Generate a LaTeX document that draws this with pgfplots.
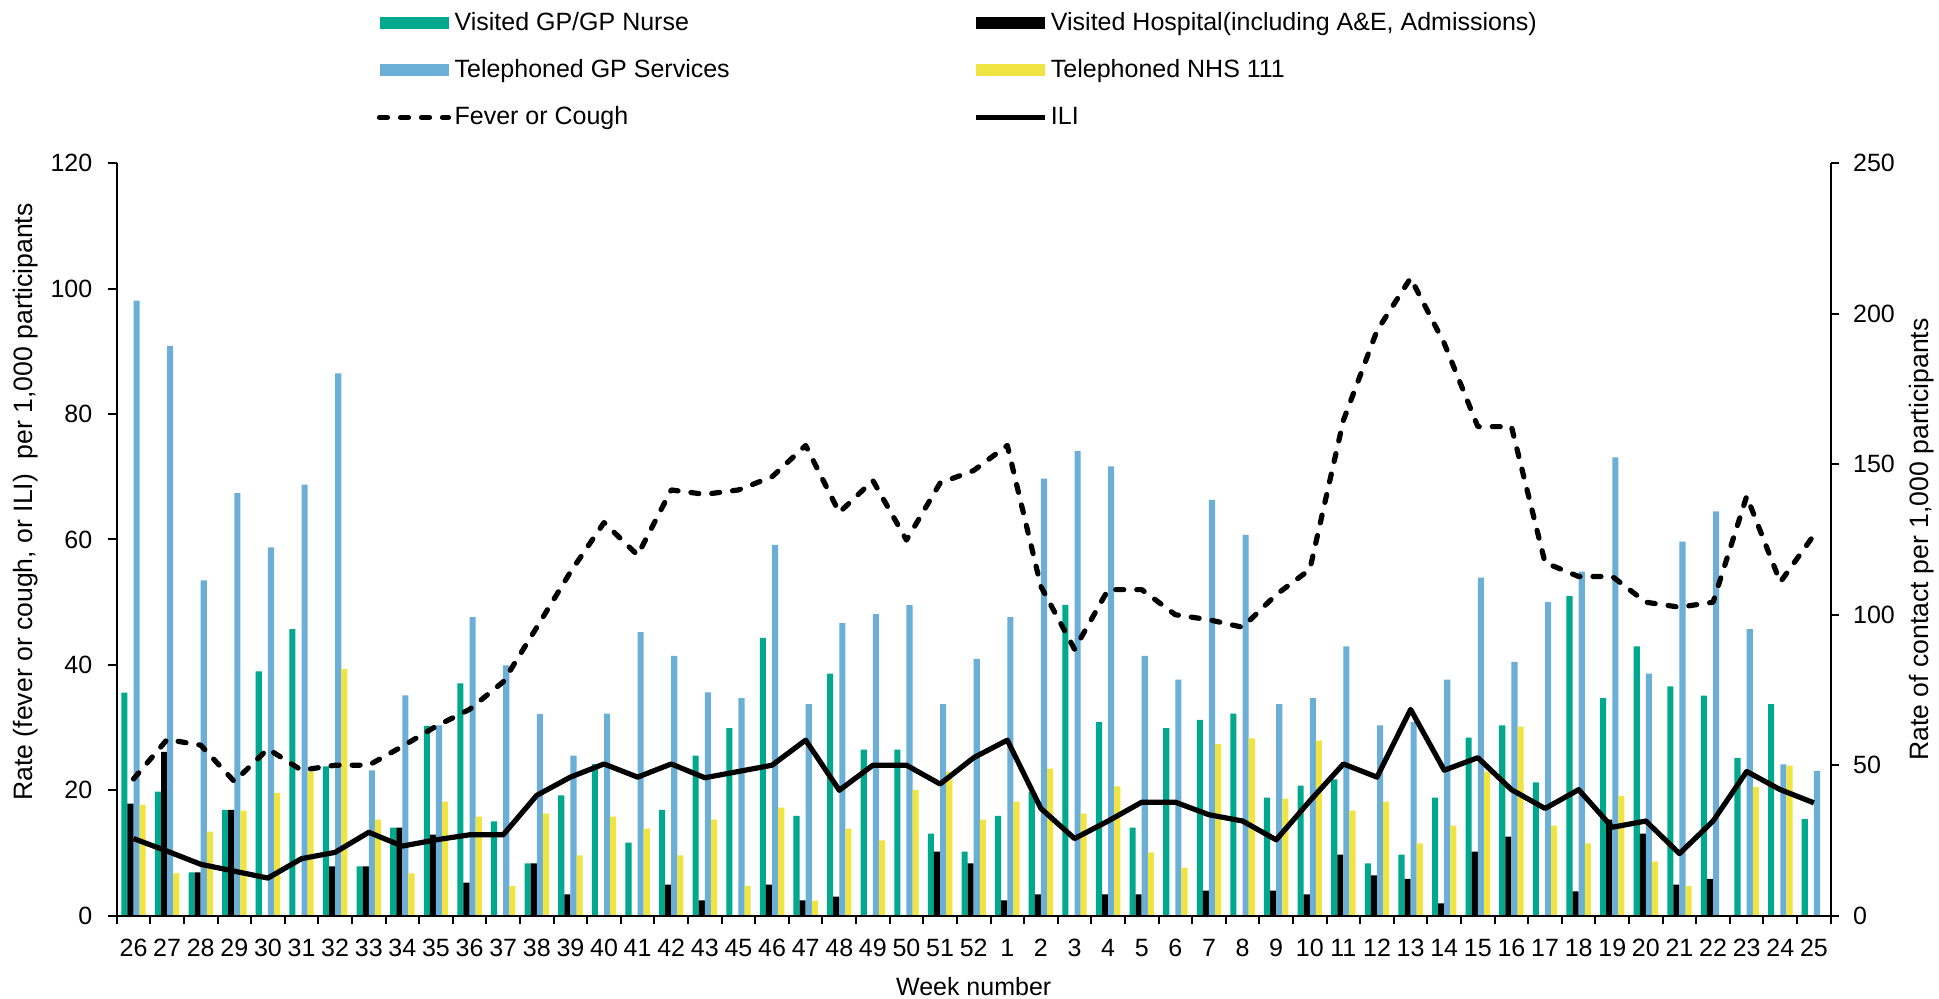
\documentclass[border=0pt]{standalone}
\usepackage{fontspec}
\setmainfont{Liberation Sans}
\usepackage{pgfplots}
\usepackage{pgfplotstable}
\pgfplotsset{compat=1.18}
\definecolor{cgreen}{RGB}{0,168,142}
\definecolor{cblue}{RGB}{107,174,214}
\definecolor{cyellow}{RGB}{240,228,66}
\newcommand{\chartfont}{\fontsize{12.5}{15}\selectfont}
\newcommand{\ylabfont}{\fontsize{13.3}{16}\selectfont}

\pgfplotstableread{
x g h b y f i
0 74.1 37.2 204.4 36.9 21.8 12.3
1 41.2 54.4 189.3 14.1 28.1 10.3
2 14.4 14.4 111.4 27.9 27.2 8.2
3 35.2 35.2 140.4 34.9 21.4 7.1
4 81.2 0 122.4 40.8 26.6 6.0
5 95.2 0 143.2 47.9 23.2 9.1
6 49.6 16.4 180.2 82.0 24.0 10.1
7 16.4 16.4 48.3 31.9 24.0 13.3
8 29.3 29.3 73.2 14.1 27.0 11.1
9 63.1 26.9 63.2 37.9 30.2 12.1
10 77.2 11.0 99.2 32.9 32.9 12.9
11 31.3 0 83.2 9.9 37.3 12.9
12 17.4 17.4 67.0 33.9 46.0 19.2
13 40.0 7.1 53.2 20.0 54.8 22.1
14 50.4 0 67.1 32.9 62.7 24.2
15 24.3 0 94.2 28.9 57.5 22.1
16 35.2 10.3 86.3 20.0 67.9 24.2
17 53.2 5.1 74.2 31.9 67.2 22.0
18 62.3 0 72.3 9.9 67.9 23.0
19 92.3 10.3 123.2 35.9 70.0 24.0
20 33.2 5.1 70.3 5.0 75.0 28.0
21 80.4 6.3 97.2 28.9 64.3 20.0
22 55.2 0 100.2 25.0 69.4 24.0
23 55.2 0 103.2 41.8 59.9 24.0
24 27.3 21.3 70.3 47.9 69.0 21.0
25 21.3 17.4 85.3 31.9 71.0 25.2
26 33.2 5.1 99.2 37.9 75.0 28.0
27 41.2 7.1 145.2 48.9 52.5 17.1
28 103.3 0 154.4 33.9 42.5 12.3
29 64.3 7.1 149.3 43.0 52.0 15.1
30 29.3 7.1 86.3 21.0 52.0 18.1
31 62.3 0 78.4 16.0 48.0 18.1
32 65.1 8.3 138.2 57.0 47.2 16.1
33 67.1 0 126.5 58.9 46.0 15.1
34 39.2 8.3 70.3 38.9 51.2 12.1
35 43.2 7.1 72.3 58.2 55.2 18.3
36 45.3 20.3 89.5 34.9 79.0 24.2
37 17.4 13.4 63.2 37.9 93.3 22.1
38 20.3 12.2 64.3 24.0 101.7 32.9
39 39.2 4.1 78.4 29.9 91.3 23.2
40 59.2 21.3 112.3 47.9 78.0 25.2
41 63.2 26.3 84.3 62.8 78.0 20.1
42 44.3 0 104.2 29.9 56.3 17.1
43 106.2 8.1 114.3 24.0 54.1 20.1
44 72.3 31.9 152.3 39.8 54.1 14.1
45 89.5 27.3 80.4 18.0 50.0 15.1
46 76.2 10.3 124.3 9.9 49.2 9.9
47 73.1 12.2 134.3 0 50.0 15.1
48 52.4 0 95.2 42.8 66.9 23.0
49 70.3 0 50.3 49.9 53.2 20.1
50 32.1 0 48.1 0 60.7 18.0
}\datatable

\pgfplotsset{
  common/.style={
    width=857pt, height=376.2pt, scale only axis,
    xmin=-0.5, xmax=50.5, ymin=0,
    tick align=outside,
    major tick length=4.3pt, minor tick length=4.3pt,
    /pgf/number format/assume math mode=true,
    tick label style={font=\chartfont},
    axis line style={line width=1pt, black},
    every tick/.style={line width=1pt, black},
  },
  barleg/.style={legend image code/.code={\fill[##1] (0pt,-3pt) rectangle (34.5pt,3pt);}},
  lineleg/.style={legend image code/.code={\draw[##1] (0pt,0pt) -- (34.5pt,0pt);}},
}

\begin{document}
\begin{tikzpicture}
\begin{axis}[common,
  ymax=250,
  axis y line*=right, axis x line=none,
  xtick=\empty,
  ytick={0,50,...,250},
  ybar=0pt, bar width=3.05pt,
  yticklabel style={anchor=west, inner sep=0pt, xshift=6.7pt},
  every axis y label/.style={at={(axis description cs:1,0.5)}, xshift=45.5pt, rotate=90, anchor=center, font=\ylabfont},
  ylabel={Rate of contact per 1,000 participants},
]
\addplot[fill=cgreen, draw=none] table[x=x,y=g]{\datatable};
\addplot[fill=black, draw=none] table[x=x,y=h]{\datatable};
\addplot[fill=cblue, draw=none] table[x=x,y=b]{\datatable};
\addplot[fill=cyellow, draw=none] table[x=x,y=y]{\datatable};
\end{axis}
\begin{axis}[common,
  ymax=120,
  axis y line*=left, axis x line*=bottom,
  ytick={0,20,...,120},
  xtick={0,...,50},
  xticklabels={26,27,28,29,30,31,32,33,34,35,36,37,38,39,40,41,42,43,45,46,47,48,49,50,51,52,1,2,3,4,5,6,7,8,9,10,11,12,13,14,15,16,17,18,19,20,21,22,23,24,25},
  minor xtick={-0.5,0.5,...,50.5},
  major x tick style={draw=none},
  xticklabel style={anchor=base, inner sep=0pt, yshift=-16.35pt},
  yticklabel style={anchor=east, inner sep=0pt, xshift=-7.7pt},
  every axis y label/.style={at={(axis description cs:0,0.5)}, xshift=-45.35pt, yshift=18.75pt, rotate=90, anchor=center, font=\ylabfont},
  ylabel={Rate (fever or cough, or ILI)\ \ per 1,000 participants},
  every axis x label/.style={at={(axis description cs:0.5,0)}, yshift=-35.65pt, anchor=center, font=\chartfont},
  xlabel={Week number},
  legend columns=2,
  legend cell align=left,
  legend style={at={(axis description cs:0,1)}, anchor=north west, xshift=129.9pt, yshift=77.3pt,
    draw=none, fill=none, inner sep=0pt, font=\chartfont, row sep=9.5pt,
    nodes={inner sep=1.75pt},
    /tikz/every even column/.append style={column sep=120pt}},
]
\addlegendimage{barleg, fill=cgreen, draw=none}
\addlegendentry{Visited GP/GP Nurse}
\addlegendimage{barleg, fill=black, draw=none}
\addlegendentry{Visited Hospital(including A\&E, Admissions)}
\addlegendimage{barleg, fill=cblue, draw=none}
\addlegendentry{Telephoned GP Services}
\addlegendimage{barleg, fill=cyellow, draw=none}
\addlegendentry{Telephoned NHS 111}
\addplot[lineleg, black, line width=2.6pt, dash pattern=on 4pt off 6.5pt, line cap=round, line join=round] table[x=x,y=f]{\datatable};
\addlegendentry{Fever or Cough}
\addplot[lineleg, black, line width=2.6pt, line join=round] table[x=x,y=i]{\datatable};
\addlegendentry{ILI}
\end{axis}
\pgfresetboundingbox
\path[use as bounding box] (-58.35pt,-41.65pt) rectangle (911.15pt,457.85pt);
\end{tikzpicture}
\end{document}
